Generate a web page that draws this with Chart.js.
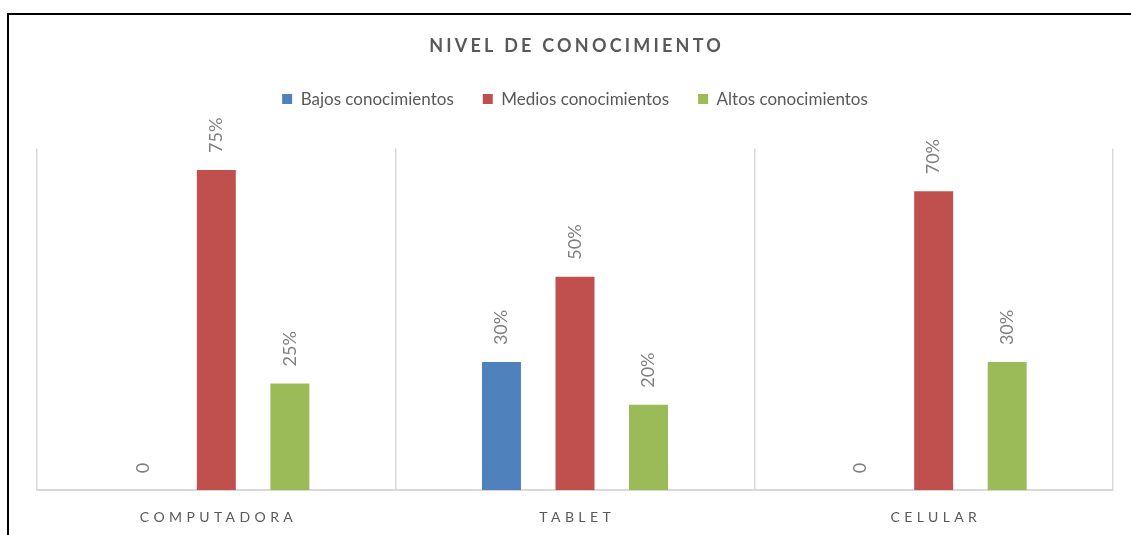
<!DOCTYPE html>
<html>
<head>
<meta charset="utf-8">
<script src="https://cdn.jsdelivr.net/npm/chart.js@4/dist/chart.umd.min.js"></script>
<style>
  html, body { margin: 0; padding: 0; background: #fff; overflow: hidden; }
  #wrap { position: relative; width: 1131px; height: 535px; }
  canvas { display: block; }
  #frame { position: absolute; left: 7px; top: 13px; width: 3000px; height: 3000px;
           border-top: 2px solid #000; border-left: 2px solid #000; pointer-events: none; }
</style>
</head>
<body>
<div id="wrap">
  <canvas id="c" width="1131" height="535"></canvas>
  <div id="frame"></div>
</div>
<script>
const categories = ['COMPUTADORA', 'TABLET', 'CELULAR'];
const seriesNames = ['Bajos conocimientos', 'Medios conocimientos', 'Altos conocimientos'];
const bajos = [0, 30, 0];
const medios = [75, 50, 70];
const altos = [25, 20, 30];
const titleText = 'NIVEL DE CONOCIMIENTO';

const FONT = 'Lato, "Open Sans", sans-serif';

function fmt(v) { return v === 0 ? '0' : v + '%'; }

const spacerPlugin = {
  id: 'spacer',
  beforeInit(chart) {
    const box = {
      position: 'top', weight: 500, fullSize: true, options: {},
      left: 0, top: 0, right: 0, bottom: 0, width: 0, height: 0,
      isHorizontal() { return true; },
      update(maxWidth) { this.width = maxWidth; this.height = 31; },
      draw() {}
    };
    Chart.layouts.addBox(chart, box);
  }
};

const spacingPlugin = {
  id: 'spacing',
  afterLayout(chart) {
    if (chart.$spPatched) return;
    chart.$spPatched = true;
    const wrap = (obj, fn, ls) => {
      const orig = obj[fn];
      obj[fn] = function (...args) {
        const ctx = this.ctx;
        ctx.save();
        ctx.letterSpacing = ls + 'px';
        ctx.translate(ls / 2, 0);
        orig.apply(this, args);
        ctx.restore();
      };
    };
    if (chart.titleBlock) wrap(chart.titleBlock, 'draw', 3.2);
    wrap(chart.scales.x, 'drawLabels', 4.4);
  }
};

const labelPlugin = {
  id: 'vlabels',
  afterDatasetsDraw(chart) {
    const ctx = chart.ctx;
    ctx.save();
    ctx.font = '18px ' + FONT;
    ctx.fillStyle = '#7f7f7f';
    ctx.textAlign = 'left';
    ctx.textBaseline = 'middle';
    chart.data.datasets.forEach((ds, i) => {
      const meta = chart.getDatasetMeta(i);
      meta.data.forEach((bar, j) => {
        ctx.save();
        ctx.translate(bar.x, bar.y - 17);
        ctx.rotate(-Math.PI / 2);
        ctx.fillText(fmt(ds.data[j]), 0, 0);
        ctx.restore();
      });
    });
    ctx.restore();
  }
};

new Chart(document.getElementById('c'), {
  type: 'bar',
  data: {
    labels: categories,
    datasets: [
      { label: seriesNames[0], data: bajos, backgroundColor: '#4f81bd' },
      { label: seriesNames[1], data: medios, backgroundColor: '#c0504d' },
      { label: seriesNames[2], data: altos, backgroundColor: '#9bbb59' }
    ]
  },
  plugins: [spacerPlugin, spacingPlugin, labelPlugin],
  options: {
    responsive: false,
    animation: false,
    devicePixelRatio: 1,
    categoryPercentage: 0.615,
    barPercentage: 0.53,
    layout: { padding: { left: 37, right: 18, top: 0, bottom: -10 } },
    plugins: {
      tooltip: { enabled: false },
      title: {
        display: true,
        text: titleText,
        color: '#595959',
        font: { family: FONT, size: 18, weight: 'bold' },
        padding: { top: 35, bottom: 5 }
      },
      legend: {
        display: true,
        position: 'top',
        labels: {
          boxWidth: 10, boxHeight: 10, padding: 29,
          color: '#595959',
          font: { family: FONT, size: 17 }
        }
      }
    },
    scales: {
      x: {
        grid: { display: true, offset: true, color: '#d9d9d9', lineWidth: 1.5, drawTicks: false },
        border: { display: true, color: '#d9d9d9', width: 2 },
        ticks: { color: '#595959', padding: 19, font: { family: FONT, size: 14 } }
      },
      y: {
        display: false,
        min: 0, max: 80
      }
    }
  }
});
</script>
</body>
</html>
